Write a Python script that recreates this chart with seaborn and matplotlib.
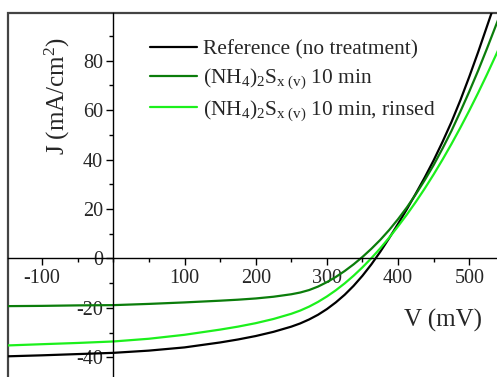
import numpy as np
import pandas as pd
import matplotlib
matplotlib.use("Agg")
import matplotlib.pyplot as plt
from matplotlib.ticker import MultipleLocator, FixedLocator
import seaborn as sns

# Voltage (mV) and current density (mA/cm2)
voltage = [-148, -100, -50, 0, 50, 100, 150, 175, 200, 225, 250, 262.5, 275,
           287.5, 300, 312.5, 325, 337.5, 350, 362.5, 375, 387.5, 400, 412.5,
           425, 437.5, 450, 462.5, 475, 487.5, 500, 512.5, 525, 537.5, 546]
j_reference = [-39.6, -39.2, -38.7, -38.2, -37.3, -36.0, -34.0, -32.8, -31.4, -29.7,
               -27.6, -26.3, -24.7, -22.8, -20.5, -17.8, -14.7, -11.1, -7.0, -2.4,
               2.7, 8.2, 14.0, 20.0, 26.3, 32.8, 39.7, 47.2, 55.2, 64.0, 73.5,
               83.5, 94.0, 104.5, 111.5]
j_10min = [-19.3, -19.2, -19.0, -18.9, -18.4, -17.8, -17.1, -16.7, -16.2, -15.5,
           -14.5, -13.8, -12.8, -11.4, -9.6, -7.5, -5.1, -2.4, 0.6, 3.9,
           7.5, 11.5, 15.9, 20.7, 26.0, 31.7, 37.8, 44.5, 51.6, 59.4, 67.5,
           76.0, 85.0, 94.3, 100.6]
j_rinsed = [-35.2, -34.7, -34.2, -33.6, -32.5, -30.9, -28.8, -27.6, -26.2, -24.5,
            -22.4, -21.1, -19.5, -17.6, -15.4, -12.9, -10.1, -7.0, -3.6, 0.1,
            4.1, 8.4, 13.0, 17.8, 22.9, 28.3, 34.0, 40.0, 46.3, 52.9, 59.8,
            67.0, 74.5, 82.3, 87.7]

labels = ["Reference (no treatment)",
          r"(NH$_4$)$_2$S$_{\mathrm{x\ (v)}}$ 10 min",
          r"(NH$_4$)$_2$S$_{\mathrm{x\ (v)}}$ 10 min, rinsed"]
colors = ["#000000", "#0b7d0b", "#1cf01c"]

x_ticks = [-100, 100, 200, 300, 400, 500]
y_ticks = [-40, -20, 0, 20, 40, 60, 80]

sns.set_style("white")
plt.rcParams["font.family"] = ["Liberation Serif", "DejaVu Serif"]
plt.rcParams["mathtext.fontset"] = "custom"
plt.rcParams["mathtext.rm"] = "Liberation Serif"
plt.rcParams["mathtext.it"] = "Liberation Serif:italic"
plt.rcParams["axes.unicode_minus"] = False

fig = plt.figure(figsize=(4.97, 3.77), dpi=100)
ax = fig.add_axes([0.0167, -0.0133, 0.9934, 0.9796])

for js, lab, col in zip([j_reference, j_10min, j_rinsed], labels, colors):
    df = pd.DataFrame({"V": voltage, "J": js})
    sns.lineplot(data=df, x="V", y="J", ax=ax, color=col, lw=1.6,
                 label=lab, sort=False)

ax.set_xlim(-147.5, 546)
ax.set_ylim(-50, 99.4)

# axes crossing at the origin, outer frame from the axes patch
for s in ["top", "right"]:
    ax.spines[s].set_visible(False)
ax.spines["left"].set_position(("data", 0))
ax.spines["bottom"].set_position(("data", 0))
for s in ["left", "bottom"]:
    ax.spines[s].set_color("black")
    ax.spines[s].set_linewidth(1.0)
ax.patch.set_edgecolor("#444444")
ax.patch.set_linewidth(1.6)

ax.xaxis.set_major_locator(FixedLocator(x_ticks))
ax.xaxis.set_minor_locator(MultipleLocator(50))
ax.yaxis.set_major_locator(FixedLocator(y_ticks))
ax.yaxis.set_minor_locator(MultipleLocator(10))
ax.tick_params(which="both", direction="out", color="black", width=1.0,
               bottom=True, left=True, labelsize=14.5)
ax.tick_params(which="major", length=5, pad=2.5)
ax.tick_params(which="minor", length=3)

ax.set_xlabel("V (mV)", fontsize=18)
ax.set_ylabel(r"J (mA/cm$^2$)", fontsize=18)
ax.xaxis.set_label_coords(0.88, 0.168)
ax.xaxis.label.set_va("center")
ax.yaxis.set_label_coords(0.0986, 0.774)
ax.yaxis.label.set_va("center")

ax.legend(loc="upper left", bbox_to_anchor=(0.27, 0.95), frameon=False,
          fontsize=15.4, handlelength=2.2, handletextpad=0.28, labelspacing=0.32,
          borderaxespad=0)

fig.savefig("out.png", dpi=100)
